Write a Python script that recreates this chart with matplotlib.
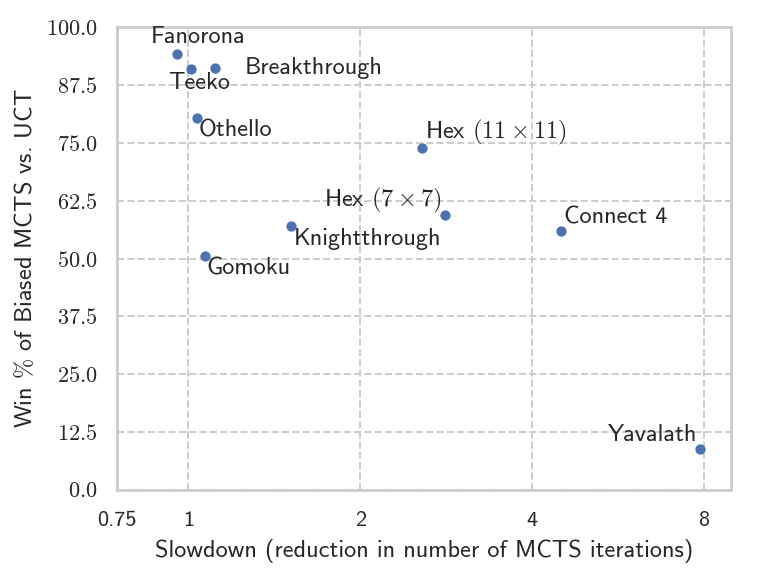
import numpy as np
import matplotlib
matplotlib.use("Agg")
import matplotlib.pyplot as plt
import seaborn as sns
from matplotlib.ticker import FixedLocator, FuncFormatter, NullLocator

# data
games = ["Fanorona", "Teeko", "Breakthrough", "Othello", "Gomoku",
         "Knightthrough", r"Hex $(11\times11)$", r"Hex $(7\times7)$",
         "Connect 4", "Yavalath"]
slowdown = [0.955, 1.009, 1.115, 1.036, 1.068, 1.514, 2.565, 2.809, 4.50, 7.87]
winpct = [94.2, 90.9, 91.1, 80.4, 50.5, 57.0, 73.9, 59.5, 55.9, 8.9]

xticks = [0.75, 1, 2, 4, 8]
xticklabels = ["0.75", "1", "2", "4", "8"]
yticks = np.arange(0, 100.1, 12.5)

# label placement (offset in points, ha, va)
offsets = {
    "Fanorona": ((-19, 4), "left", "bottom"),
    "Teeko": ((-16, -2), "left", "top"),
    "Breakthrough": ((21, 0), "left", "center"),
    "Othello": ((1, -1), "left", "top"),
    "Gomoku": ((1, -1), "left", "top"),
    "Knightthrough": ((2, -1), "left", "top"),
    r"Hex $(11\times11)$": ((2, 1), "left", "bottom"),
    r"Hex $(7\times7)$": ((-2, 0), "right", "bottom"),
    "Connect 4": ((2, 2), "left", "bottom"),
    "Yavalath": ((-2, 2), "right", "bottom"),
}

sns.set_theme(style="whitegrid", rc={"grid.linestyle": "--", "grid.linewidth": 1.4})
plt.rcParams["font.family"] = ["cmss10", "DejaVu Sans"]
plt.rcParams["mathtext.fontset"] = "cm"
plt.rcParams["axes.formatter.use_mathtext"] = True

fig, ax = plt.subplots(figsize=(7.6, 5.79), dpi=100)
fig.subplots_adjust(left=0.154, right=0.962, top=0.953, bottom=0.154)

ax.scatter(slowdown, winpct, s=55, color="#4c72b0", zorder=3, linewidths=0)

for g, x, y in zip(games, slowdown, winpct):
    off, ha, va = offsets[g]
    ax.annotate(g, (x, y), xytext=off, textcoords="offset points",
                ha=ha, va=va, fontsize=17.5, color="#262626")

ax.set_xscale("log", base=2)
ax.set_xlim(0.75, 8.92)
ax.set_ylim(0, 100)
ax.xaxis.set_major_locator(FixedLocator(xticks))
ax.xaxis.set_minor_locator(NullLocator())
ax.set_xticklabels(xticklabels)
ax.yaxis.set_major_locator(FixedLocator(yticks))
ax.yaxis.set_major_formatter(FuncFormatter(lambda v, p: r"$%.1f$" % v))
ax.tick_params(axis="x", labelsize=16, pad=9)
ax.tick_params(axis="y", labelsize=16, pad=8)

ax.set_xlabel("Slowdown (reduction in number of MCTS iterations)", fontsize=17.5, labelpad=7)
ax.set_ylabel(r"Win $\%$ of Biased MCTS vs. UCT", fontsize=17.5, labelpad=6)

for s in ax.spines.values():
    s.set_linewidth(2)
    s.set_color("#cccccc")

fig.savefig("out.png")
